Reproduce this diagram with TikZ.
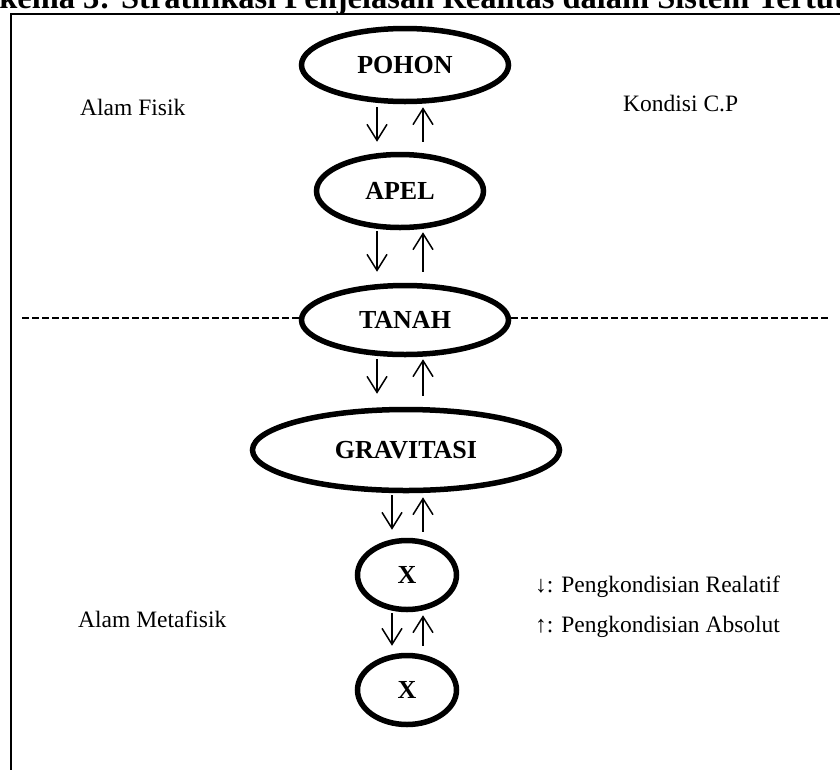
\documentclass[tikz,border=0pt]{standalone}
\usepackage{fontspec}
\setmainfont{Liberation Serif}
\usepackage{tikz}
\usetikzlibrary{positioning}
\usetikzlibrary{shapes.geometric, arrows.meta}

\begin{document}
\begin{tikzpicture}[
    x=1pt, y=-1pt,
    lapisan/.style={
        ellipse,
        draw=black,
        line width=5.5pt,
        inner sep=0pt,
        font=\fontsize{26}{30}\selectfont\bfseries
    },
    teks/.style={
        anchor=base west,
        inner sep=0pt,
        font=\fontsize{23.5}{28}\selectfont
    },
    relatif/.style={
        -{Straight Barb[length=16pt,width=20pt]},
        line width=1.5pt
    },
    absolut/.style={
        -{Straight Barb[length=16pt,width=20pt]},
        line width=1.5pt
    },
    batas/.style={
        line width=1.5pt,
        dash pattern=on 7pt off 3pt
    }
]
\useasboundingbox (0,0) rectangle (840,769);

% judul dan bingkai
\node[anchor=base west, inner sep=0pt, font=\fontsize{32.5}{38}\selectfont\bfseries] (judul) at (-19,8) {Skema 3: Stratifikasi Penjelasan Realitas dalam Sistem Tertutup};
\draw[line width=2.5pt] (11,790) |- (860,14);

% lapisan
\node[lapisan, minimum width=207pt, minimum height=73pt] (pohon) at (405,65) {POHON};
\node[lapisan, minimum width=167pt, minimum height=73pt] (apel) at (400,191) {APEL};
\node[lapisan, minimum width=207pt, minimum height=69pt] (tanah) at (405,320) {TANAH};
\node[lapisan, minimum width=307pt, minimum height=81pt] (gravitasi) at (406,450) {GRAVITASI};
\node[lapisan, minimum width=99pt, minimum height=69pt] (xa) at (407,575) {X};
\node[lapisan, minimum width=99pt, minimum height=69pt] (xb) at (407,690) {X};

% keterangan
\node[teks] (fisik) at (80,115) {Alam Fisik};
\node[teks] (kondisi) at (623,111) {Kondisi C.P};
\node[teks] (metafisik) at (78,627) {Alam Metafisik};
\node[teks] (ketrelatif) at (535,592) {↓: Pengkondisian Realatif};
\node[teks] (ketabsolut) at (535,632) {↑: Pengkondisian Absolut};

% garis batas
\coordinate (kiri) at (22,318);
\coordinate (kanan) at (831,318);
\draw[batas] (kiri) -- (kiri -| tanah.west);
\draw[batas] (tanah.east |- kanan) -- (kanan);

% panah
\coordinate (turun) at (377,0);
\coordinate (naik) at (423,0);
\coordinate (turunx) at (392,0);

\draw[relatif, shorten <=3pt, shorten >=10pt] (turun |- pohon.south) -- (turun |- apel.north);
\draw[absolut, shorten <=10pt, shorten >=3pt] (naik |- apel.north) -- (naik |- pohon.south);
\draw[relatif, shorten <=1pt, shorten >=11pt] (turun |- apel.south) -- (turun |- tanah.north);
\draw[absolut, shorten <=11pt, shorten >=2pt] (naik |- tanah.north) -- (naik |- apel.south);
\draw[relatif, shorten <=2pt, shorten >=13pt] (turun |- tanah.south) -- (turun |- gravitasi.north);
\draw[absolut, shorten <=11pt, shorten >=2pt] (naik |- gravitasi.north) -- (naik |- tanah.south);
\draw[relatif, shorten <=2pt, shorten >=8pt] (turunx |- gravitasi.south) -- (turunx |- xa.north);
\draw[absolut, shorten <=6pt, shorten >=4pt] (naik |- xa.north) -- (naik |- gravitasi.south);
\draw[relatif, shorten <=1pt, shorten >=7pt] (turunx |- xa.south) -- (turunx |- xb.north);
\draw[absolut, shorten <=7pt, shorten >=3pt] (naik |- xb.north) -- (naik |- xa.south);

\end{tikzpicture}
\end{document}
